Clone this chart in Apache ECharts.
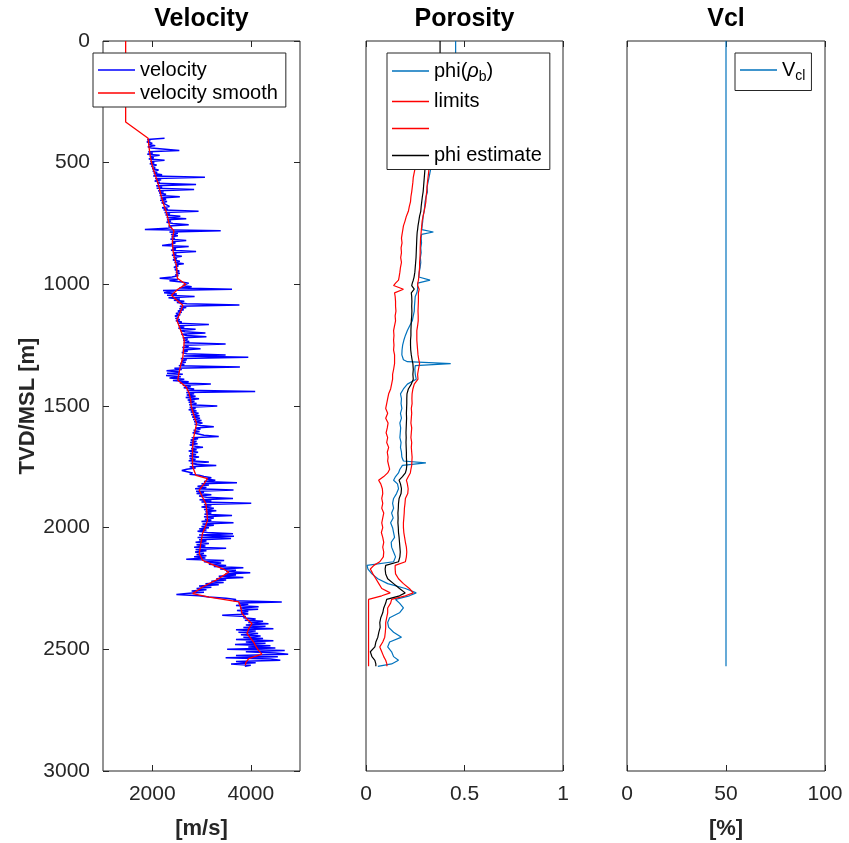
<!DOCTYPE html>
<html>
<head>
<meta charset="utf-8">
<title>Well log panels</title>
<script src="https://cdn.jsdelivr.net/npm/echarts@6/dist/echarts.min.js"></script>
<style>
  html, body { margin: 0; padding: 0; background: #ffffff; }
  #chart { width: 849px; height: 843px; }
</style>
</head>
<body>
<div id="chart"></div>
<script>
// ---------------- Velocity log ----------------
// Sonic velocity sampled every 5 m, starting at 400 m TVD/MSL.
const velDepthTop = 400;
const velDepthStep = 5;
const velocityRaw = [
  2250,1900,1960,1890,2000,1930,2060,1910,1980,1940,
  2550,1920,2010,1900,2150,1950,2030,1930,2250,1960,
  2040,1950,2090,1980,2060,2000,2130,2010,2100,2030,
  2200,2020,3070,2060,2180,2050,2150,2100,2890,2080,
  2200,2090,2850,2120,2230,2140,2280,2150,2560,2170,
  2280,2160,2300,2190,2260,2220,2350,2200,2310,2230,
  2940,2250,2360,2270,2570,2290,2690,2300,2380,2290,
  2420,2740,2330,2400,2300,1850,3390,2350,2520,2380,
  2520,2390,2460,2370,2690,2400,2470,2380,2200,2740,
  2410,2480,2380,2890,2420,2490,2400,2600,2430,2500,
  2420,2560,2450,2640,2470,2530,2440,2510,2460,2550,
  2480,2560,2470,2530,2400,2150,2520,2350,2600,2740,
  2780,2620,2800,2550,3620,2220,2450,2240,2500,2300,
  2860,2330,2560,2440,2650,2500,2700,3770,2560,2690,
  2550,2640,2520,2600,2480,2570,2460,2540,2470,2560,
  2480,2600,2520,3150,2540,2650,2530,2880,2570,2660,
  3080,2590,2700,3100,2620,2720,2630,2750,2640,3490,
  2650,2740,2610,2980,2620,2720,2600,2700,3490,2640,
  3950,2580,2700,2600,2680,2570,2650,2540,3780,2450,
  2600,2290,2560,2300,2620,2280,2580,2350,2650,2420,
  2740,2560,3190,2620,2780,2640,2850,2700,4090,2690,
  2850,2700,2880,2680,2950,2720,2860,2740,2900,2750,
  3320,2760,2880,2740,2900,2780,2940,2790,2960,2810,
  2970,2830,3000,2850,3020,2860,2990,3250,2870,2980,
  2840,2960,2820,2940,3050,3350,2800,2930,2780,2900,
  2770,2920,2760,2880,3030,2790,2900,2740,2930,2770,
  2890,2750,2950,2760,2880,2740,3150,2780,2900,3300,
  2760,2880,2700,2600,2590,2820,2760,2950,3050,3200,
  3100,3280,3050,3720,3000,3150,2920,3100,2870,3650,
  2890,3050,2900,3200,2950,3100,3640,2960,3200,3000,
  4010,3050,3200,3000,3250,3050,3300,3080,3200,3060,
  3620,3050,3250,3070,3200,3000,3650,3020,3250,3000,
  3150,2950,3100,2920,3120,3640,2950,3660,2920,3600,
  2950,3100,2880,3150,2900,3080,2850,3500,2880,3100,
  2870,3050,2900,3100,2850,3080,2690,3460,3050,3400,
  3150,3500,3250,3850,3380,3700,3500,3990,3480,3700,
  3350,3850,3300,3500,3200,3450,3080,3350,2950,3200,
  2900,3100,2800,3050,2750,2490,2950,3150,3500,3700,
  3650,4630,3750,3950,3700,4160,3780,4150,3720,3950,
  3800,3950,3420,3900,3850,4100,3880,4250,3950,4360,
  3900,4300,3850,4460,3700,4100,3750,4150,3800,4200,
  3850,4250,3700,4460,3900,4300,3680,4400,3950,4500,
  3520,4690,3900,4500,4760,3700,4550,3490,4400,4600,
  3700,4100,3600,4000,3880
];

// Smoothed velocity trend (water column at the top, then the logged interval).
const smoothDepth = [
  0, 333, 400, 430, 460, 490, 520, 550, 580, 610, 640, 670, 700, 730, 760, 780,
  800, 830, 860, 890, 920, 950, 975, 1000, 1020, 1045, 1065, 1086, 1110, 1148,
  1180, 1210, 1230, 1260, 1300, 1330, 1367, 1394, 1422, 1449, 1475, 1500, 1535,
  1572, 1610, 1640, 1668, 1710, 1750, 1785, 1798, 1820, 1846, 1875, 1901, 1935,
  1970, 2000, 2024, 2060, 2107, 2134, 2150, 2168, 2182, 2200, 2216, 2244, 2271,
  2285, 2305, 2330, 2353, 2375, 2394, 2415, 2435, 2455, 2470, 2490, 2504, 2520,
  2538, 2555, 2566
];
const smoothVelocity = [
  1460, 1460, 1916, 1930, 1950, 1975, 2010, 2060, 2110, 2150, 2185, 2230, 2280, 2320, 2350, 2440,
  2420, 2410, 2420, 2450, 2490, 2500, 2510, 2680, 2520, 2390, 2500, 2620, 2580, 2500,
  2560, 2620, 2650, 2640, 2620, 2580, 2540, 2520, 2690, 2750, 2780, 2790, 2840,
  2900, 2860, 2830, 2820, 2815, 2820, 2887, 3121, 3050, 2954, 3020, 3088, 3110,
  3121, 3070, 3020, 2990, 2954, 3020, 3200, 3422, 3556, 3420, 3289, 3020, 2820,
  3155, 3757, 3800, 3823, 3920, 4024, 3960, 3924, 4000, 4058, 4110, 4158, 4225,
  3958, 3900, 3891
];

// ---------------- Porosity ----------------
const porDepth = [
  0, 50, 150, 250, 350, 450, 520, 540, 560, 580, 600, 620, 640, 660, 680, 700, 720, 740, 760,
  775, 785, 795, 810, 830, 850, 870, 890, 910, 930, 950, 970, 983, 995, 1005, 1020, 1035,
  1050, 1070, 1090, 1110, 1130, 1150, 1170, 1190, 1210, 1230, 1250, 1270, 1290, 1310, 1318,
  1326, 1334, 1350, 1370, 1390, 1410, 1430, 1450, 1470, 1490, 1510, 1530, 1550, 1570, 1590,
  1610, 1630, 1650, 1670, 1690, 1710, 1726, 1734, 1744, 1760, 1775, 1790, 1805, 1820, 1840,
  1860, 1880, 1900, 1920, 1940, 1960, 1980, 2000, 2020, 2040, 2060, 2080, 2100, 2120, 2140,
  2155, 2170, 2190, 2210, 2230, 2250, 2268, 2280, 2295, 2310, 2330, 2350, 2370, 2390, 2410,
  2430, 2450, 2470, 2490, 2510, 2530, 2545, 2560, 2570
];
const phiRhoB = [
  .455, .455, .425, .39, .36, .34, .33, .325, .32, .315, .31, .312, .305, .30, .298, .295, .29, .288, .285,
  .283, .342, .282, .28, .282, .278, .28, .276, .278, .275, .27, .268, .325, .262, .262, .262, .258,
  .25, .248, .246, .245, .24, .235, .222, .21, .20, .192, .186, .183, .182, .19, .21,
  .43, .25, .248, .25, .255, .21, .19, .175, .18, .178, .182, .175, .18, .172, .176,
  .174, .172, .178, .175, .18, .182, .19, .304, .185, .172, .165, .15, .14, .16, .165,
  .155, .14, .135, .14, .13, .138, .125, .135, .14, .145, .128, .13, .14, .15, .14,
  .005, .01, .03, .06, .11, .20, .255, .22, .15, .17, .19, .17, .12, .11, .115,
  .14, .18, .12, .11, .13, .14, .165, .13, .06
];
const phiLower = [
  null, null, null, null, null, .26, .25, .245, .24, .238, .235, .232, .228, .226, .22, .215, .205, .198, .19,
  .187, .185, .183, .18, .183, .178, .18, .176, .18, .175, .172, .168, .165, .15, .14, .19, .145,
  .148, .15, .15, .152, .148, .15, .145, .14, .142, .14, .142, .14, .145, .145, .145,
  .145, .143, .14, .135, .135, .13, .125, .115, .11, .105, .10, .11, .10, .112, .108,
  .102, .11, .105, .115, .108, .112, .11, .11, .115, .12, .11, .09, .064, .075, .083,
  .085, .08, .085, .08, .09, .085, .08, .085, .078, .085, .09, .085, .09, .088, .07,
  .04, .022, .035, .05, .065, .08, .123, .08, .013, .013, .013, .013, .013, .013, .013,
  .013, .013, .013, .013, .013, .013, .013, .013, .013
];
const phiUpper = [
  null, null, null, null, null, .325, .32, .318, .315, .312, .31, .308, .305, .304, .30, .295, .29, .285, .283,
  .281, .28, .279, .277, .276, .275, .275, .274, .272, .272, .27, .268, .266, .263, .262, .27, .266,
  .266, .266, .265, .264, .265, .265, .262, .258, .258, .258, .26, .262, .264, .268, .27,
  .272, .27, .266, .262, .264, .245, .238, .234, .233, .234, .23, .232, .23, .228, .232,
  .23, .228, .232, .23, .232, .234, .233, .233, .232, .228, .225, .215, .205, .21, .214,
  .212, .20, .198, .195, .194, .192, .19, .19, .192, .196, .20, .205, .207, .205, .20,
  .148, .148, .15, .165, .19, .22, .24, .20, .13, .125, .11, .11, .105, .10, .10,
  .098, .095, .085, .07, .08, .09, .10, .106, .106
];
const phiEstimate = [
  .376, .376, .355, .335, .318, .305, .30, .298, .296, .294, .292, .29, .286, .283, .28, .278, .272, .268, .264,
  .262, .26, .259, .258, .257, .256, .255, .254, .252, .25, .248, .244, .24, .235, .232, .245, .23,
  .232, .233, .232, .233, .232, .23, .229, .228, .228, .226, .226, .227, .23, .234, .236,
  .238, .239, .24, .238, .24, .23, .215, .208, .207, .207, .206, .205, .206, .205, .204,
  .203, .204, .203, .204, .205, .205, .206, .206, .207, .205, .20, .185, .168, .175, .18,
  .178, .168, .165, .164, .162, .163, .162, .164, .165, .168, .17, .172, .174, .172, .165,
  .10, .097, .10, .11, .14, .17, .199, .17, .105, .10, .09, .085, .075, .07, .072,
  .065, .06, .05, .045, .022, .03, .045, .05, .05
];

// ---------------- Clay volume ----------------
const vclDepth = [0, 2570];
const vclPercent = [50, 50];

// ---------------- Axis ticks ----------------
const depthTicks = [0, 500, 1000, 1500, 2000, 2500, 3000];
const velocityTicks = [2000, 4000];
const porosityTicks = [0, 0.5, 1];
const vclTicks = [0, 50, 100];

// ---------------- Build the chart ----------------
const FONT = '"Liberation Sans", Arial, Helvetica, sans-serif';
const AXIS_COLOR = '#262626';
const TICK_FONT = 21;
const LABEL_FONT = 22;
const TITLE_FONT = 25;
const LEGEND_FONT = 20;
const TICK_LEN = 6;

const velocityPairs = velocityRaw.map((v, i) => [v, velDepthTop + i * velDepthStep]);
const smoothPairs = smoothVelocity.map((v, i) => [v, smoothDepth[i]]);
const porPairs = arr => porDepth
  .map((d, i) => (arr[i] == null ? null : [arr[i], d]))
  .filter(p => p !== null);
const vclPairs = vclPercent.map((v, i) => [v, vclDepth[i]]);

// Inward-pointing ticks on every side of each panel box.
const tick = values => ({
  show: true, inside: true, length: TICK_LEN,
  customValues: values,
  lineStyle: { color: AXIS_COLOR, width: 1 }
});
const tickLabel = values => ({
  show: true, customValues: values, margin: 13,
  fontSize: TICK_FONT, fontFamily: FONT, color: AXIS_COLOR,
  formatter: v => String(v)
});
const hiddenLabel = { show: false };
// Keep every axis on its own edge of the box (the depth axis starts at 0 on top).
const noLine = { show: false, onZero: false };
const nameStyle = size => ({ fontSize: size, fontWeight: 'bold', fontFamily: FONT, color: size === TITLE_FONT ? '#000' : AXIS_COLOR });

function xPair(grid, min, max, ticks, title, xlabel) {
  const base = { gridIndex: grid, type: 'value', min, max, splitLine: { show: false }, axisLine: noLine };
  const bottom = Object.assign({}, base, {
    position: 'bottom', axisTick: tick(ticks), axisLabel: tickLabel(ticks)
  });
  if (xlabel) {
    Object.assign(bottom, { name: xlabel, nameLocation: 'middle', nameGap: 47, nameTextStyle: nameStyle(LABEL_FONT) });
  }
  const top = Object.assign({}, base, {
    position: 'top', axisTick: tick(ticks), axisLabel: hiddenLabel,
    name: title, nameLocation: 'middle', nameGap: 9, nameTextStyle: nameStyle(TITLE_FONT)
  });
  return [bottom, top];
}

const depthBase = { type: 'value', inverse: true, min: 0, max: 3000, splitLine: { show: false }, axisLine: noLine };

const xAxes = []
  .concat(xPair(0, 1000, 5000, velocityTicks, 'Velocity', '[m/s]'))
  .concat(xPair(1, 0, 1, porosityTicks, 'Porosity', null))
  .concat(xPair(2, 0, 100, vclTicks, 'Vcl', '[%]'));

const yAxes = [
  Object.assign({}, depthBase, {
    gridIndex: 0, position: 'left', axisTick: tick(depthTicks), axisLabel: tickLabel(depthTicks),
    name: 'TVD/MSL [m]', nameLocation: 'middle', nameGap: 60, nameRotate: 90, nameTextStyle: nameStyle(LABEL_FONT)
  }),
  Object.assign({}, depthBase, { gridIndex: 0, position: 'right', axisTick: tick(depthTicks), axisLabel: hiddenLabel }),
  Object.assign({}, depthBase, { gridIndex: 1, position: 'left', axisTick: { show: false }, axisLabel: hiddenLabel }),
  Object.assign({}, depthBase, { gridIndex: 2, position: 'left', axisTick: { show: false }, axisLabel: hiddenLabel })
];

const gridStyle = {
  show: true, borderColor: AXIS_COLOR, borderWidth: 1, backgroundColor: 'transparent',
  containLabel: false, outerBoundsMode: 'none'
};
const grids = [
  Object.assign({ left: 103, top: 41, width: 197, height: 730 }, gridStyle),
  Object.assign({ left: 366, top: 41, width: 197, height: 730 }, gridStyle),
  Object.assign({ left: 627, top: 41, width: 198, height: 730 }, gridStyle)
];

function logLine(name, data, xi, yi, color, width, z) {
  return {
    type: 'line', name, data, xAxisIndex: xi, yAxisIndex: yi,
    symbol: 'none', showSymbol: false, silent: true, animation: false, z,
    lineStyle: { color, width }, itemStyle: { color }
  };
}

const PHI_NAME = 'phi(rho_b)';
const LIMIT2_NAME = ' ';
const VCL_NAME = 'V_cl';

const legendBase = {
  orient: 'vertical', itemWidth: 37, itemHeight: 1.5, icon: 'rect',
  backgroundColor: '#ffffff', borderColor: AXIS_COLOR, borderWidth: 1, borderRadius: 0,
  selectedMode: false, z: 10,
  textStyle: {
    fontSize: LEGEND_FONT, fontFamily: FONT, color: '#000',
    rich: {
      t: { fontSize: LEGEND_FONT, fontFamily: FONT, color: '#000' },
      r: { fontSize: LEGEND_FONT, fontFamily: FONT, fontStyle: 'italic', color: '#000' },
      s: { fontSize: 14, fontFamily: FONT, color: '#000', padding: [13, 0, 0, 0] }
    }
  },
  formatter: name => {
    if (name === PHI_NAME) return '{t|phi(}{r|ρ}{s|b}{t|)}';
    if (name === VCL_NAME) return '{t|V}{s|cl}';
    return name;
  }
};

const option = {
  backgroundColor: '#ffffff',
  animation: false,
  grid: grids,
  xAxis: xAxes,
  yAxis: yAxes,
  legend: [
    Object.assign({}, legendBase, { left: 93, top: 53, padding: [7, 8, 4, 5], itemGap: 3, data: ['velocity', 'velocity smooth'] }),
    Object.assign({}, legendBase, { left: 387, top: 53, padding: [8, 8, 4, 5], itemGap: 7, data: [PHI_NAME, 'limits', LIMIT2_NAME, 'phi estimate'] }),
    Object.assign({}, legendBase, { left: 735, top: 53, padding: [7, 6, 7, 5], itemGap: 6, data: [VCL_NAME] })
  ],
  series: [
    logLine('velocity', velocityPairs, 0, 0, '#0000ff', 1.5, 2),
    logLine('velocity smooth', smoothPairs, 0, 0, '#ff0000', 1.3, 3),
    logLine(PHI_NAME, porPairs(phiRhoB), 2, 2, '#0072bd', 1.2, 2),
    logLine('limits', porPairs(phiLower), 2, 2, '#ff0000', 1.2, 3),
    logLine(LIMIT2_NAME, porPairs(phiUpper), 2, 2, '#ff0000', 1.2, 3),
    logLine('phi estimate', porPairs(phiEstimate), 2, 2, '#000000', 1.2, 4),
    logLine(VCL_NAME, vclPairs, 4, 3, '#0072bd', 1.2, 2)
  ]
};

const chart = echarts.init(document.getElementById('chart'), null, { renderer: 'canvas' });
chart.setOption(option);
</script>
</body>
</html>
